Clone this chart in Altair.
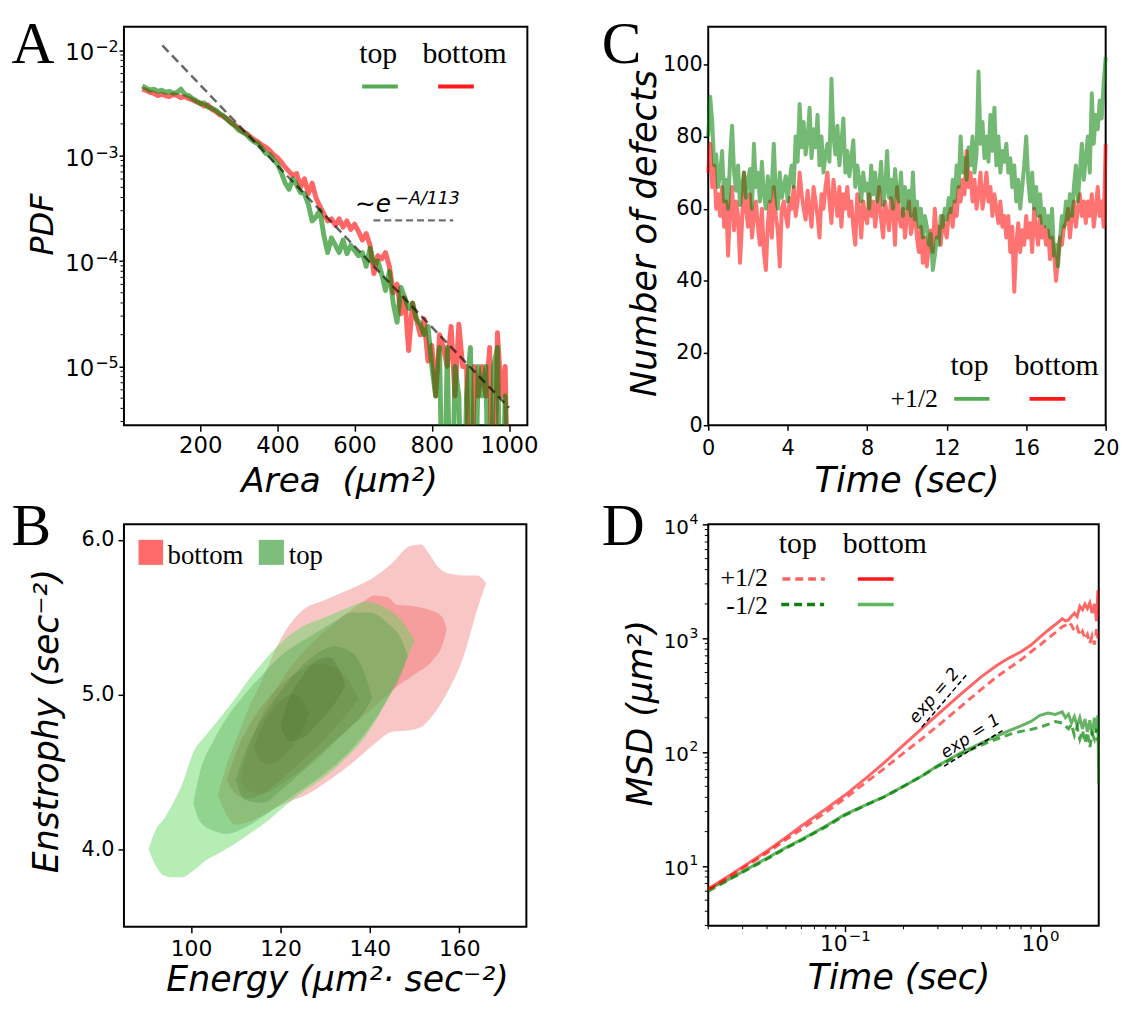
import altair as alt
import pandas as pd

FONT = "DejaVu Sans"
SERIF = "Liberation Serif"

# ======================= Panel A : PDF of area =======================
area_A = list(range(50, 1001, 10))
log10_pdf_top = [
    -2.34, -2.36, -2.38, -2.37, -2.39, -2.38, -2.40, -2.39, -2.41, -2.40,
    -2.37, -2.42, -2.43, -2.46, -2.48, -2.51, -2.50, -2.54, -2.55, -2.57,
    -2.60, -2.62, -2.66, -2.69, -2.72, -2.76, -2.78, -2.80, -2.84, -2.87,
    -2.89, -2.93, -2.98, -2.99, -3.04, -3.08, -3.16, -3.26, -3.32, -3.22,
    -3.28, -3.35, -3.36, -3.46, -3.62, -3.58, -3.52, -3.75, -3.92, -3.78,
    -3.85, -3.92, -3.80, -3.93, -3.85, -3.90, -3.95, -3.92, -4.05, -3.88,
    -4.02, -4.00, -4.12, -4.28, -4.10, -4.40, -4.58, -4.25, -4.35, -4.45,
    -4.40, -4.55, -4.60, -4.70, -4.62, -5.00, -5.28, -4.82, None, -4.82,
    None, -5.00, -5.28, None, -5.28, -4.82, None, -5.00, -5.28, -5.00,
    None, -5.00, -4.82, None, -5.28, None]
log10_pdf_bottom = [
    -2.37, -2.38, -2.40, -2.41, -2.43, -2.42, -2.43, -2.44, -2.42, -2.43,
    -2.45, -2.44, -2.46, -2.47, -2.49, -2.50, -2.53, -2.52, -2.56, -2.58,
    -2.61, -2.63, -2.65, -2.69, -2.71, -2.74, -2.77, -2.79, -2.82, -2.85,
    -2.87, -2.90, -2.92, -2.95, -2.99, -3.02, -3.06, -3.11, -3.15, -3.19,
    -3.17, -3.30, -3.22, -3.36, -3.26, -3.40, -3.48, -3.55, -3.62, -3.60,
    -3.66, -3.60, -3.68, -3.62, -3.70, -3.65, -3.72, -3.80, -3.74, -3.85,
    -4.12, -3.95, -3.98, -3.92, -4.05, -4.30, -4.22, -4.50, -4.35, -4.85,
    -4.40, -4.55, -4.70, -4.55, -4.95, -4.80, -5.28, -4.70, -4.82, -5.00,
    -4.62, -5.28, -4.60, -5.00, -5.00, None, -5.00, -5.28, -5.00, -5.28,
    -4.82, None, -4.68, -5.28, -5.00, None]
fit_area = [102, 1000]
fit_pdf = [1.11e-2, 4.06e-6]
pdf_ticks = [1e-5, 1e-4, 1e-3, 1e-2]
pdf_tick_exp = ["−5", "−4", "−3", "−2"]

# ======================= Panel C : number of defects =======================
time_C = [round(i * 0.1, 1) for i in range(201)]
defects_top = [
    80, 91, 84, 72, 75, 66, 70, 76, 62, 68,
    60, 74, 83, 70, 65, 72, 61, 66, 70, 63,
    68, 71, 60, 78, 66, 70, 62, 73, 64, 60,
    69, 62, 66, 78, 64, 60, 70, 63, 66, 69,
    62, 68, 72, 66, 80, 73, 89, 77, 84, 75,
    79, 88, 74, 82, 77, 86, 72, 80, 70, 75,
    78, 73, 96, 80, 75, 83, 72, 78, 85, 70,
    76, 69, 74, 79, 66, 72, 68, 62, 70, 65,
    67, 60, 72, 64, 70, 62, 66, 73, 61, 65,
    76, 63, 68, 60, 71, 64, 62, 70, 58, 66,
    60, 65, 58, 70, 57, 62, 55, 60, 52, 58,
    55, 50, 53, 43, 47, 52, 50, 58, 55, 60,
    57, 63, 59, 68, 62, 72, 66, 80, 70, 74,
    68, 77, 72, 80, 70, 75, 98, 78, 84, 74,
    80, 73, 86, 76, 88, 72, 80, 70, 76, 73,
    78, 70, 74, 66, 72, 62, 68, 60, 66, 72,
    80, 68, 62, 70, 60, 66, 58, 64, 56, 60,
    55, 58, 52, 60, 47, 50, 44, 52, 58, 55,
    62, 57, 64, 58, 66, 72, 62, 70, 78, 68,
    74, 80, 70, 92, 78, 86, 82, 90, 85, 95,
    102]
defects_bottom = [
    70, 78, 66, 72, 60, 64, 58, 66, 55, 62,
    47, 60, 66, 54, 62, 58, 45, 56, 70, 60,
    55, 64, 52, 58, 62, 55, 50, 60, 48, 43,
    56, 62, 52, 66, 58, 54, 44, 60, 62, 58,
    55, 63, 60, 66, 58, 62, 70, 64, 60, 57,
    65, 60, 55, 66, 62, 58, 52, 64, 60, 66,
    70, 62, 56, 68, 63, 58, 66, 55, 64, 60,
    66, 58, 62, 55, 50, 64, 60, 52, 62, 58,
    56, 64, 58, 62, 55, 60, 66, 57, 52, 62,
    58, 54, 63, 60, 50, 66, 58, 55, 60, 52,
    58, 62, 53, 56, 60, 52, 48, 55, 45, 52,
    44, 50, 54, 48, 60, 52, 55, 50, 58, 54,
    52, 58, 60, 55, 62, 58, 66, 62, 68, 64,
    76, 66, 70, 62, 68, 60, 64, 70, 60, 64,
    70, 62, 66, 58, 64, 60, 56, 62, 55, 58,
    52, 58, 48, 55, 37, 50, 56, 48, 54, 50,
    58, 52, 56, 48, 60, 54, 50, 58, 52, 55,
    50, 54, 46, 52, 48, 40, 46, 52, 50, 55,
    56, 60, 52, 58, 62, 55, 60, 64, 58, 62,
    56, 62, 58, 64, 55, 60, 66, 58, 62, 55,
    78]

# ======================= Panel B : KDE contours (energy vs enstrophy) =======================
contours_bottom = [
    dict(E=[106, 108, 110, 113, 116, 119, 122, 125.6, 129, 133, 137, 141, 145, 149, 151.5, 153, 155.4, 158, 161, 164, 166],
         lo=[4.35, 4.22, 4.16, 4.18, 4.22, 4.27, 4.31, 4.35, 4.41, 4.49, 4.58, 4.68, 4.76, 4.77, 4.79, 4.83, 4.92, 5.05, 5.25, 5.55, 5.72],
         hi=[4.35, 4.55, 4.70, 4.92, 5.10, 5.30, 5.45, 5.56, 5.60, 5.65, 5.70, 5.76, 5.85, 5.96, 5.97, 5.92, 5.82, 5.78, 5.77, 5.77, 5.72]),
    dict(E=[111, 113, 116, 120, 124, 128, 132, 136, 138.5, 141, 144, 146, 150, 154, 156.2, 157.2],
         lo=[4.45, 4.38, 4.36, 4.42, 4.50, 4.60, 4.70, 4.80, 4.86, 4.92, 5.00, 5.05, 5.13, 5.22, 5.32, 5.42],
         hi=[4.45, 4.66, 4.88, 5.08, 5.24, 5.36, 5.46, 5.55, 5.60, 5.64, 5.63, 5.58, 5.57, 5.54, 5.50, 5.42]),
    dict(E=[108, 110, 113, 116, 120, 124, 128, 132, 135, 137.5],
         lo=[4.45, 4.36, 4.33, 4.36, 4.45, 4.55, 4.66, 4.78, 4.88, 4.97],
         hi=[4.45, 4.62, 4.80, 4.93, 5.06, 5.15, 5.20, 5.18, 5.10, 4.97]),
    dict(E=[114, 116, 118, 120.5, 123, 125, 126.5],
         lo=[4.66, 4.56, 4.55, 4.60, 4.68, 4.78, 4.88],
         hi=[4.66, 4.80, 4.90, 4.97, 5.00, 4.96, 4.88]),
]
contours_top = [
    dict(E=[90.5, 92, 94, 96, 98, 100.4, 103.4, 106.5, 110, 113, 117, 121, 125, 130, 135, 139, 143, 147, 150],
         lo=[4.00, 3.90, 3.83, 3.82, 3.82, 3.86, 3.93, 3.98, 4.04, 4.10, 4.18, 4.28, 4.37, 4.47, 4.60, 4.73, 4.92, 5.15, 5.35],
         hi=[4.00, 4.12, 4.20, 4.30, 4.42, 4.62, 4.74, 4.85, 4.98, 5.10, 5.24, 5.36, 5.44, 5.50, 5.56, 5.60, 5.57, 5.48, 5.35]),
    dict(E=[100.5, 102, 105, 108, 112, 116, 120, 124, 128, 132, 136, 140, 144, 147, 148.5],
         lo=[4.30, 4.18, 4.12, 4.10, 4.14, 4.21, 4.29, 4.37, 4.45, 4.54, 4.65, 4.79, 4.97, 5.13, 5.25],
         hi=[4.30, 4.50, 4.70, 4.85, 5.00, 5.13, 5.25, 5.33, 5.40, 5.47, 5.53, 5.53, 5.46, 5.36, 5.25]),
    dict(E=[110, 112, 116, 120, 124, 128, 132, 136, 139, 140.5],
         lo=[4.45, 4.32, 4.30, 4.38, 4.48, 4.58, 4.69, 4.80, 4.90, 4.98],
         hi=[4.45, 4.62, 4.85, 5.02, 5.16, 5.26, 5.31, 5.27, 5.12, 4.98]),
    dict(E=[120, 122, 125, 128, 131, 133, 134.5],
         lo=[4.80, 4.70, 4.72, 4.80, 4.90, 4.98, 5.06],
         hi=[4.80, 4.98, 5.12, 5.22, 5.24, 5.17, 5.06]),
]

# ======================= Panel D : MSD =======================
time_D = [0.02, 0.025, 0.03, 0.04, 0.05, 0.06, 0.08, 0.1, 0.13, 0.16, 0.2, 0.25, 0.3, 0.4, 0.5,
          0.6, 0.7, 0.8, 0.9, 1.0, 1.1, 1.2, 1.3, 1.35, 1.4, 1.45, 1.5, 1.55, 1.6, 1.65, 1.7,
          1.75, 1.8, 1.85, 1.9, 1.95, 1.98, 2.0]
msd_bottom_plus = [6.3, 8.0, 9.8, 13.5, 17.8, 22.4, 31.6, 41.7, 60, 81, 115, 162, 214, 331, 457,
                   575, 676, 759, 871, 1023, 1175, 1318, 1479, 1420, 1445, 1560, 1660, 1550, 1905, 1780, 1995,
                   1820, 2042, 1660, 2000, 1410, 2630, 1585]
msd_top_plus = [6.2, 7.8, 9.5, 13.0, 17.0, 21.0, 29.5, 39, 55, 72, 98, 132, 170, 257, 355,
                457, 550, 646, 760, 870, 1000, 1120, 1260, 1300, 1380, 1300, 1150, 1250, 1050, 1150, 980,
                1080, 900, 1050, 880, 1200, 1000, 1150]
msd_bottom_minus = [6.2, 7.5, 8.9, 11.7, 14.5, 17.0, 22.4, 28.2, 34.7, 40.7, 50, 62, 76, 100, 120,
                    138, 155, 170, 186, 210, 220, 214, 225, 200, 215, 180, 205, 170, 200, 160, 195,
                    150, 190, 140, 200, 150, 210, 52]
msd_top_minus = [6.0, 7.4, 8.8, 11.5, 14.3, 16.8, 22.0, 27.8, 34.5, 40.5, 50, 62, 75, 97, 115,
                 130, 143, 152, 158, 165, 175, 185, 180, 170, 160, 175, 140, 165, 130, 155, 120,
                 150, 110, 145, 130, 160, 125, 140]
exp2_t, exp2_msd = [0.248, 0.4224], [165.0, 480.0]
exp1_t, exp1_msd = [0.323, 0.661], [75.2, 159.0]
msd_ticks = [10, 100, 1000, 10000]
msd_tick_exp = ["1", "2", "3", "4"]


# ======================= helpers =======================
def pdf_vals(lst):
    return [10 ** v if v is not None else 1e-7 for v in lst]


class Panel:
    def __init__(self, xs, ys, ax, ay):
        self.xs, self.ys, self.ax, self.ay = xs, ys, ax, ay

    def X(self, f):
        return alt.X(f, scale=self.xs, axis=self.ax)

    def Y(self, f):
        return alt.Y(f, scale=self.ys, axis=self.ay)

    def minor_y(self, vals, length=3.5):
        return alt.Chart(pd.DataFrame({"v": vals})).mark_rule(color="black", strokeWidth=1).encode(
            y=self.Y("v:Q"), x=alt.value(-length), x2=alt.value(0))

    def minor_x(self, vals, h, length=3.5):
        return alt.Chart(pd.DataFrame({"v": vals})).mark_rule(color="black", strokeWidth=1).encode(
            x=self.X("v:Q"), y=alt.value(h), y2=alt.value(h + length))

    def texts(self, xs_, ys_, labels, size, font=SERIF, align="center", baseline="alphabetic",
              style="normal", angle=0):
        df = pd.DataFrame({"x": xs_, "y": ys_, "label": labels})
        return alt.Chart(df).mark_text(font=font, fontSize=size, align=align, baseline=baseline,
                                       fontStyle=style, angle=angle, color="black").encode(
            x=self.X("x:Q"), y=self.Y("y:Q"), text="label:N")

    def seg(self, xs_, ys_, color, width, dash=None, opacity=1.0):
        kw = dict(color=color, strokeWidth=width, opacity=opacity)
        if dash:
            kw["strokeDash"] = dash
        return alt.Chart(pd.DataFrame({"x": xs_, "y": ys_})).mark_line(**kw).encode(
            x=self.X("x:Q"), y=self.Y("y:Q"))

    def ylabels_pow(self, vals, exps, base_size, exp_size, x_base, x_exp, dy_base, dy_exp):
        df = pd.DataFrame({"v": vals, "e": exps, "b": ["10"] * len(vals)})
        base = alt.Chart(df).mark_text(font=FONT, fontSize=base_size, align="right", baseline="alphabetic",
                                       dy=dy_base, color="black").encode(
            x=alt.value(x_base), y=self.Y("v:Q"), text="b:N")
        sup = alt.Chart(df).mark_text(font=FONT, fontSize=exp_size, align="left", baseline="alphabetic",
                                      dy=dy_exp, color="black").encode(
            x=alt.value(x_exp), y=self.Y("v:Q"), text="e:N")
        return [base, sup]

    def xlabel_pow(self, val, exp, base_size, exp_size, y_base, y_exp, dx_base, dx_exp):
        df = pd.DataFrame({"v": [val], "e": [exp], "b": ["10"]})
        base = alt.Chart(df).mark_text(font=FONT, fontSize=base_size, align="right", baseline="alphabetic",
                                       dx=dx_base, color="black").encode(
            x=self.X("v:Q"), y=alt.value(y_base), text="b:N")
        sup = alt.Chart(df).mark_text(font=FONT, fontSize=exp_size, align="left", baseline="alphabetic",
                                      dx=dx_exp, color="black").encode(
            x=self.X("v:Q"), y=alt.value(y_exp), text="e:N")
        return [base, sup]


def letter(ch, dx, dy):
    return alt.Chart(pd.DataFrame({"t": [ch]})).mark_text(
        font=SERIF, fontSize=60, align="left", baseline="alphabetic", color="black").encode(
        x=alt.value(dx), y=alt.value(dy), text="t:N")


# ======================= Panel A =======================
WA, HA = 407, 402
A = Panel(
    alt.Scale(domain=[2.5, 1047.5], nice=False, zero=False),
    alt.Scale(type="log", domain=[10 ** -5.558, 10 ** -1.778], nice=False),
    alt.Axis(values=[200, 400, 600, 800, 1000], format="d", title="Area\u00a0\u00a0(μm²)", labelFontSize=23,
             titleFontSize=34.5, tickSize=6, labelPadding=4, titleX=217, titleY=67,
             titleBaseline="alphabetic", titleAlign="center"),
    alt.Axis(values=pdf_ticks, labels=False,
             title="PDF", titleFontSize=32, tickSize=5,
             titleX=-72, titleY=199, titleBaseline="alphabetic", titleAngle=270, titleAlign="center"))
dfA = pd.DataFrame({"area": area_A, "top": pdf_vals(log10_pdf_top), "bottom": pdf_vals(log10_pdf_bottom)})
a_bottom = alt.Chart(dfA).mark_line(color="#ff0000", strokeWidth=5, opacity=0.6, clip=True,
                                    strokeJoin="round").encode(x=A.X("area:Q"), y=A.Y("bottom:Q"))
a_top = alt.Chart(dfA).mark_line(color="#008000", strokeWidth=5, opacity=0.6, clip=True,
                                 strokeJoin="round").encode(x=A.X("area:Q"), y=A.Y("top:Q"))
a_fit = A.seg(fit_area, fit_pdf, "black", 2.5, dash=[9, 5], opacity=0.6)
a_minor = A.minor_y([k * 10 ** d for d in (-6, -5, -4, -3) for k in range(2, 10)
                     if 10 ** -5.558 <= k * 10 ** d <= 10 ** -1.778])
a_ylabels = A.ylabels_pow(pdf_ticks, pdf_tick_exp, 23, 16, -30, -29, 10, 2)
a_leg_txt = A.texts([661, 884.7], [7.48e-3, 7.48e-3], ["top", "bottom"], 30)
a_leg_g = A.seg([619.5, 712], [4.52e-3, 4.52e-3], "#55aa55", 4)
a_leg_r = A.seg([816.4, 908.8], [4.52e-3, 4.52e-3], "#ff1a1a", 4)
a_exp1 = A.texts([600.7], [2.91e-4], ["∼e"], 25, font=FONT, align="left", style="italic")
a_exp2 = A.texts([703.4], [3.46e-4], ["−A/113"], 17.5, font=FONT, align="left", style="italic")
a_exp_line = A.seg([648.7, 855.5], [2.43e-4, 2.43e-4], "#707070", 2.5, dash=[7, 4])
panelA = alt.layer(a_bottom, a_top, a_fit, a_minor, *a_ylabels, a_leg_txt, a_leg_g, a_leg_r,
                   a_exp1, a_exp2, a_exp_line, letter("A", -113.5, 37)).properties(width=WA, height=HA)

# ======================= Panel C =======================
WC, HC = 401, 402
C = Panel(
    alt.Scale(domain=[0, 20], nice=False, zero=False),
    alt.Scale(domain=[0, 110.4], nice=False, zero=False),
    alt.Axis(values=[0, 4, 8, 12, 16, 20], title="Time (sec)", labelFontSize=21, titleFontSize=35.5,
             tickSize=5, labelPadding=8, titleX=200, titleY=67, titleBaseline="alphabetic",
             titleAlign="center"),
    alt.Axis(values=[0, 20, 40, 60, 80, 100], title="Number of defects", labelFontSize=21,
             titleFontSize=35.5, tickSize=5, labelPadding=1, titleX=-53, titleY=208,
             titleBaseline="alphabetic", titleAngle=270, titleAlign="center"))
dfC = pd.DataFrame({"t": time_C, "top": defects_top, "bottom": defects_bottom})
c_bottom = alt.Chart(dfC).mark_line(color="#ff0000", strokeWidth=4, opacity=0.55, strokeJoin="round").encode(
    x=C.X("t:Q"), y=C.Y("bottom:Q"))
c_top = alt.Chart(dfC).mark_line(color="#008000", strokeWidth=4, opacity=0.55, strokeJoin="round").encode(
    x=C.X("t:Q"), y=C.Y("top:Q"))
c_leg_txt = C.texts([13.15, 17.53], [14.04, 14.04], ["top", "bottom"], 30)
c_leg_lab = C.texts([11.56], [5.15], ["+1/2"], 26, align="right")
c_leg_g = C.seg([12.38, 14.15], [7.3, 7.3], "#55aa55", 4)
c_leg_r = C.seg([16.17, 17.97], [7.3, 7.3], "#ff1a1a", 4)
panelC = alt.layer(c_bottom, c_top, c_leg_txt, c_leg_lab, c_leg_g, c_leg_r,
                   letter("C", -107.5, 37)).properties(width=WC, height=HC)

# ======================= Panel B =======================
WB, HB = 406, 406
B = Panel(
    alt.Scale(domain=[85, 175], nice=False, zero=False),
    alt.Scale(domain=[3.5, 6.1], nice=False, zero=False),
    alt.Axis(values=[100, 120, 140, 160], title="Energy (μm²·\u00a0sec⁻²)", labelFontSize=22,
             titleFontSize=35, tickSize=6, labelPadding=6, titleX=215, titleY=64,
             titleBaseline="alphabetic", titleAlign="center"),
    alt.Axis(values=[4.0, 5.0, 6.0], format=".1f", title="Enstrophy (sec⁻²)", labelFontSize=21,
             titleFontSize=35, tickSize=6, labelPadding=4, titleX=-67, titleY=198,
             titleBaseline="alphabetic", titleAngle=270, titleAlign="center"))
b_layers = []
red_cols = [("#f07070", 0.40), ("#f05050", 0.35), ("#c04040", 0.35), ("#a03030", 0.35)]
green_cols = [("#5ad85a", 0.45), ("#3c9c3c", 0.30), ("#3d7d2e", 0.25), ("#3f6a2a", 0.22)]
for group, cols in ((contours_bottom, red_cols), (contours_top, green_cols)):
    for lev, (col, op) in zip(group, cols):
        b_layers.append(alt.Chart(pd.DataFrame(lev)).mark_area(
            color=col, opacity=op, interpolate="monotone").encode(
            x=B.X("E:Q"), y=B.Y("lo:Q"), y2="hi:Q"))
leg_patch = pd.DataFrame({"x": [88.26, 115.15], "x2": [93.76, 120.78], "y": [6.0, 6.0],
                          "y2": [5.838, 5.838], "c": ["bottom", "top"]})
b_patch = alt.Chart(leg_patch).mark_rect().encode(
    x=B.X("x:Q"), x2="x2:Q", y=B.Y("y:Q"), y2="y2:Q",
    color=alt.Color("c:N", scale=alt.Scale(domain=["bottom", "top"], range=["#ff6a6a", "#7dbe7d"]), legend=None))
b_leg_txt = B.texts([94.75, 121.87], [5.845, 5.845], ["bottom", "top"], 27, align="left")
panelB = alt.layer(*b_layers, b_patch, b_leg_txt, letter("B", -113.5, 20.5)).properties(width=WB, height=HB)

# ======================= Panel D =======================
WD, HD = 394, 405
D = Panel(
    alt.Scale(type="log", domain=[0.02, 2.0], nice=False),
    alt.Scale(type="log", domain=[2.98, 10000], nice=False),
    alt.Axis(values=[0.1, 1], labels=False, title="Time (sec)",
             titleFontSize=35, tickSize=6, titleX=192, titleY=63.5,
             titleBaseline="alphabetic", titleAlign="center"),
    alt.Axis(values=msd_ticks, labels=False,
             title="MSD (μm²)", titleFontSize=35, tickSize=6,
             titleX=-57, titleY=190, titleBaseline="alphabetic", titleAngle=270, titleAlign="center"))
dfD = pd.DataFrame({"t": time_D, "bp": msd_bottom_plus, "tp": msd_top_plus,
                    "bm": msd_bottom_minus, "tm": msd_top_minus})


def dline(col, color, opacity, dash=None):
    kw = dict(color=color, strokeWidth=3, opacity=opacity, clip=True)
    if dash:
        kw["strokeDash"] = dash
    return alt.Chart(dfD).mark_line(**kw).encode(x=D.X("t:Q"), y=D.Y(col + ":Q"))


d_bm = dline("bm", "#008000", 0.6)
d_tm = dline("tm", "#008000", 0.7, dash=[8, 5])
d_tp = dline("tp", "#ff0000", 0.6, dash=[8, 5])
d_bp = dline("bp", "#ff0000", 0.6)
d_e2 = D.seg(exp2_t, exp2_msd, "black", 1.5, dash=[5, 3])
d_e1 = D.seg(exp1_t, exp1_msd, "black", 1.5, dash=[5, 3])
d_e2t = D.texts([0.288], [312], ["exp = 2"], 17, font=FONT, baseline="middle", style="italic", angle=311)
d_e1t = D.texts([0.441], [137], ["exp = 1"], 17, font=FONT, baseline="middle", style="italic", angle=327)
d_minor_y = D.minor_y([k * 10 ** d for d in (0, 1, 2, 3) for k in range(2, 10) if 2.98 <= k * 10 ** d < 10000])
d_minor_x = D.minor_x([k * 10 ** d for d in (-2, -1) for k in range(2, 10)], HD)
d_ylabels = D.ylabels_pow(msd_ticks, msd_tick_exp, 20, 14, -19.5, -19, 9.4, -0.6)
d_xlab1 = D.xlabel_pow(0.1, "−1", 22, 15, HD + 25, HD + 15, 3, 4)
d_xlab2 = D.xlabel_pow(1.0, "0", 22, 15, HD + 25, HD + 15, 9.25, 10)
d_leg_txt = D.texts([0.0575, 0.1606], [5625, 5625], ["top", "bottom"], 30)
d_leg_lab = D.texts([0.0404, 0.0404], [2890, 1639], ["+1/2", "-1/2"], 26, align="right")
d_leg1 = D.seg([0.04796, 0.0791], [3304, 3304], "#ff6464", 3.5, dash=[8, 5])
d_leg2 = D.seg([0.1167, 0.1781], [3304, 3304], "#ff1a1a", 3.5)
d_leg3 = D.seg([0.04733, 0.0784], [1974, 1974], "#108010", 3.5, dash=[8, 5])
d_leg4 = D.seg([0.1167, 0.1781], [1974, 1974], "#5cb85c", 3.5)
panelD = alt.layer(d_bm, d_tm, d_tp, d_bp, d_e2, d_e1, d_e2t, d_e1t, d_minor_y, d_minor_x,
                   *d_ylabels, *d_xlab1, *d_xlab2,
                   d_leg_txt, d_leg_lab, d_leg1, d_leg2, d_leg3, d_leg4,
                   letter("D", -107.5, 20.5)).properties(width=WD, height=HD)

# ======================= layout =======================
chart = alt.concat(panelA, panelC, panelB, panelD, columns=2,
                   spacing={"row": 100, "column": 182.5}, bounds="flush").properties(
    padding={"left": 2, "top": 2.5, "right": 6, "bottom": 4}
).configure_view(stroke="black", strokeWidth=2).configure_axis(
    grid=False, domain=False, tickColor="black", tickWidth=1.5, labelColor="black",
    labelFont=FONT, titleFont=FONT, titleFontStyle="italic", titleFontWeight="normal",
    titleColor="black", labelFlush=False, labelOverlap=False)

chart.save("out.html", embed_options={"renderer": "svg", "actions": False})
